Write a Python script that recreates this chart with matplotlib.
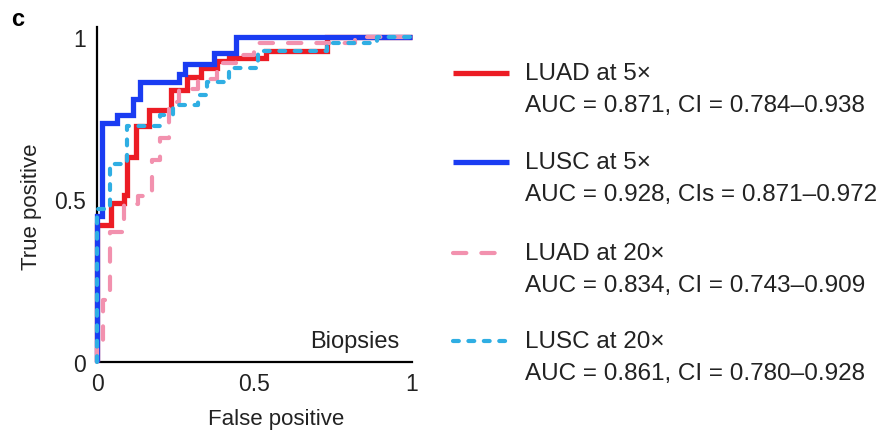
import matplotlib
matplotlib.use("Agg")
import matplotlib.pyplot as plt
from matplotlib.lines import Line2D

plt.rcParams['font.family'] = ['Liberation Sans', 'DejaVu Sans']

# ROC curves (false positive rate, true positive rate) as step vertices
luad5_fpr = [0, 0, 0.045, 0.045, 0.085, 0.085, 0.095, 0.095, 0.125, 0.125, 0.165, 0.165,
             0.235, 0.235, 0.285, 0.285, 0.33, 0.33, 0.38, 0.38, 0.42, 0.42, 0.535, 0.535,
             0.73, 0.73, 1]
luad5_tpr = [0, 0.42, 0.42, 0.49, 0.49, 0.515, 0.515, 0.63, 0.63, 0.725, 0.725, 0.775,
             0.775, 0.835, 0.835, 0.875, 0.875, 0.905, 0.905, 0.925, 0.925, 0.935, 0.935,
             0.955, 0.955, 1, 1]

lusc5_fpr = [0, 0, 0.016, 0.016, 0.065, 0.065, 0.115, 0.115, 0.135, 0.135, 0.26, 0.26,
             0.28, 0.28, 0.37, 0.37, 0.44, 0.44, 1]
lusc5_tpr = [0, 0.45, 0.45, 0.735, 0.735, 0.76, 0.76, 0.81, 0.81, 0.86, 0.86, 0.885,
             0.885, 0.915, 0.915, 0.95, 0.95, 1, 1]

luad20_fpr = [0, 0, 0.02, 0.02, 0.04, 0.04, 0.085, 0.085, 0.13, 0.13, 0.175, 0.175,
              0.2, 0.2, 0.23, 0.23, 0.26, 0.26, 0.32, 0.32, 0.38, 0.38, 0.44, 0.44,
              0.5, 0.5, 0.82, 0.82, 1]
luad20_tpr = [0, 0.06, 0.06, 0.19, 0.19, 0.40, 0.40, 0.485, 0.485, 0.51, 0.51, 0.62,
              0.62, 0.69, 0.69, 0.80, 0.80, 0.84, 0.84, 0.87, 0.87, 0.92, 0.92, 0.945,
              0.945, 0.98, 0.98, 1, 1]

lusc20_fpr = [0, 0, 0.04, 0.04, 0.095, 0.095, 0.2, 0.2, 0.24, 0.24, 0.32, 0.32, 0.35,
              0.35, 0.42, 0.42, 0.51, 0.51, 0.73, 0.73, 0.89, 0.89, 1]
lusc20_tpr = [0, 0.47, 0.47, 0.61, 0.61, 0.725, 0.725, 0.76, 0.76, 0.79, 0.79, 0.82,
              0.82, 0.86, 0.86, 0.905, 0.905, 0.955, 0.955, 0.98, 0.98, 1, 1]

series_names = ["LUAD at 5×", "LUSC at 5×", "LUAD at 20×", "LUSC at 20×"]
series_stats = ["AUC = 0.871, CI = 0.784–0.938",
                "AUC = 0.928, CIs = 0.871–0.972",
                "AUC = 0.834, CI = 0.743–0.909",
                "AUC = 0.861, CI = 0.780–0.928"]
tick_values = [0, 0.5, 1]
tick_labels = ["0", "0.5", "1"]

colors = ["#EC1C24", "#1A3CF2", "#F291AE", "#2FAEE3"]
styles = [
    dict(lw=3.8, ls="-", solid_capstyle="butt"),
    dict(lw=3.8, ls="-", solid_capstyle="butt"),
    dict(lw=3.0, ls=(0, (3.2, 3.6)), dash_capstyle="round"),
    dict(lw=3.0, ls=(0, (1.4, 2.3)), dash_capstyle="round"),
]

W, H = 886, 435
fig = plt.figure(figsize=(W / 100, H / 100), dpi=100)
ax = fig.add_axes([97 / W, 1 - 363 / H, 315 / W, 335 / H])

curves = [(luad5_fpr, luad5_tpr), (lusc5_fpr, lusc5_tpr),
          (luad20_fpr, luad20_tpr), (lusc20_fpr, lusc20_tpr)]
for (fx, ty), c, st in zip(curves, colors, styles):
    ax.plot(fx, ty, color=c, clip_on=False, zorder=3, solid_joinstyle="miter", **st)

ax.set_xlim(0, 1)
ax.set_ylim(0, 1.03)
for s in ("top", "right"):
    ax.spines[s].set_visible(False)
for s in ("left", "bottom"):
    ax.spines[s].set_linewidth(1.6)
    ax.spines[s].set_color("black")
ax.set_xticks(tick_values, tick_labels)
ax.set_yticks(tick_values, tick_labels)
ax.tick_params(length=0, labelsize=16.5, colors="#222222")
ax.tick_params(axis="x", pad=7)
ax.tick_params(axis="y", pad=8)

ax.set_xlabel("False positive", fontsize=16, color="#222222")
ax.xaxis.set_label_coords((276 - 97) / 315, (363 - 420) / 335)
ax.xaxis.label.set_va("center")
ax.set_ylabel("True positive", fontsize=16, color="#222222")
ax.yaxis.set_label_coords((31 - 97) / 315, (363 - 207) / 335)
ax.yaxis.label.set_va("center")

ax.text(0.96, 0.066, "Biopsies", ha="right", va="center", fontsize=17, color="#222222",
        transform=ax.transData)

fig.text(11 / W, 1 - 19 / H, "c", fontsize=17, fontweight="bold", va="center", ha="left")

# legend block
handle_y = [74, 163, 254, 342]
for i in range(4):
    y = handle_y[i]
    fig.add_artist(Line2D([453 / W, 509 / W], [1 - y / H, 1 - y / H],
                          transform=fig.transFigure, color=colors[i], **styles[i]))
    fig.text(525 / W, 1 - y / H, series_names[i], fontsize=17.5, va="center",
             ha="left", color="#222222")
    fig.text(525 / W, 1 - (y + 32) / H, series_stats[i], fontsize=17.5, va="center",
             ha="left", color="#222222")

fig.savefig("out.png", dpi=100)
